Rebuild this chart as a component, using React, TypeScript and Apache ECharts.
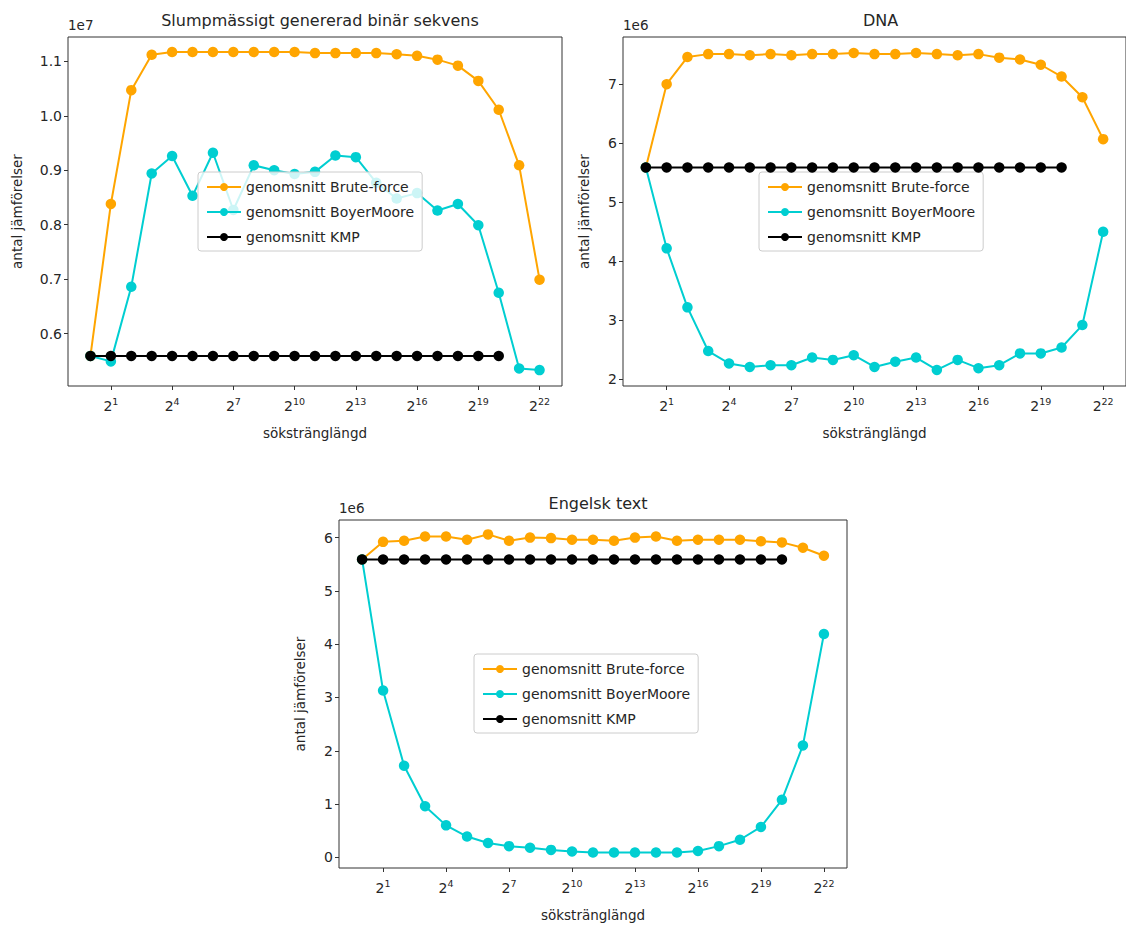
import React, { useEffect, useRef } from "react";
import * as echarts from "echarts";

// exponents n for search-string length 2^n
const exponents = [0, 1, 2, 3, 4, 5, 6, 7, 8, 9, 10, 11, 12, 13, 14, 15, 16, 17, 18, 19, 20, 21, 22];
const kmpExponents = [0, 1, 2, 3, 4, 5, 6, 7, 8, 9, 10, 11, 12, 13, 14, 15, 16, 17, 18, 19, 20];
const xTickExponents = [1, 4, 7, 10, 13, 16, 19, 22];

// values in millions of comparisons
const binBrute = [5.59, 8.38, 10.47, 11.12, 11.17, 11.17, 11.17, 11.17, 11.17, 11.17, 11.17, 11.15, 11.15, 11.15, 11.15, 11.13, 11.10, 11.03, 10.92, 10.64, 10.11, 9.09, 6.99];
const binBM = [5.59, 5.49, 6.86, 8.94, 9.26, 8.53, 9.32, 8.27, 9.09, 9.00, 8.93, 8.97, 9.27, 9.24, 8.77, 8.48, 8.58, 8.26, 8.38, 7.99, 6.75, 5.36, 5.33];
const binKMP = [5.59, 5.59, 5.59, 5.59, 5.59, 5.59, 5.59, 5.59, 5.59, 5.59, 5.59, 5.59, 5.59, 5.59, 5.59, 5.59, 5.59, 5.59, 5.59, 5.59, 5.59];

const dnaBrute = [5.59, 7.00, 7.46, 7.51, 7.51, 7.49, 7.51, 7.49, 7.51, 7.51, 7.53, 7.51, 7.51, 7.53, 7.51, 7.49, 7.51, 7.45, 7.42, 7.33, 7.13, 6.78, 6.07];
const dnaBM = [5.59, 4.22, 3.22, 2.48, 2.27, 2.21, 2.24, 2.24, 2.37, 2.33, 2.41, 2.21, 2.30, 2.37, 2.16, 2.33, 2.19, 2.24, 2.44, 2.44, 2.54, 2.92, 4.50];
const dnaKMP = [5.59, 5.59, 5.59, 5.59, 5.59, 5.59, 5.59, 5.59, 5.59, 5.59, 5.59, 5.59, 5.59, 5.59, 5.59, 5.59, 5.59, 5.59, 5.59, 5.59, 5.59];

const engBrute = [5.59, 5.92, 5.94, 6.02, 6.02, 5.96, 6.06, 5.94, 6.00, 5.99, 5.96, 5.96, 5.94, 6.00, 6.02, 5.94, 5.96, 5.96, 5.96, 5.93, 5.91, 5.81, 5.66];
const engBM = [5.59, 3.13, 1.72, 0.96, 0.60, 0.39, 0.27, 0.21, 0.18, 0.14, 0.11, 0.09, 0.09, 0.09, 0.09, 0.09, 0.12, 0.21, 0.33, 0.57, 1.08, 2.10, 4.19];
const engKMP = [5.59, 5.59, 5.59, 5.59, 5.59, 5.59, 5.59, 5.59, 5.59, 5.59, 5.59, 5.59, 5.59, 5.59, 5.59, 5.59, 5.59, 5.59, 5.59, 5.59, 5.59];

const titles = ["Slumpmässigt genererad binär sekvens", "DNA", "Engelsk text"];
const seriesNames = ["genomsnitt Brute-force", "genomsnitt BoyerMoore", "genomsnitt KMP"];
const colors = ["#FFA500", "#00CED1", "#000000"];
const yTicks1 = [6, 7, 8, 9, 10, 11];
const yTicks2 = [2, 3, 4, 5, 6, 7];
const yTicks3 = [0, 1, 2, 3, 4, 5, 6];
const offsetTexts = ["1e7", "1e6", "1e6"];
const xName = "sökstränglängd";
const yName = "antal jämförelser";

const FONT = "DejaVu Sans";
const TXT = "#262626";

export default function App() {
  const ref = useRef<HTMLDivElement>(null);
  useEffect(() => {
    document.body.style.margin = "0";
    const chart = echarts.init(ref.current!, null, { renderer: "svg" });

    const grids = [
      { left: 68, top: 37, width: 494, height: 349 },
      { left: 623, top: 37, width: 505, height: 349 },
      { left: 339, top: 520, width: 508, height: 348 },
    ];
    const yRanges = [
      [5.038, 11.446],
      [1.888, 7.80],
      [-0.2, 6.33],
    ];
    const yTickSets = [yTicks1, yTicks2, yTicks3];
    const yFormat = [
      (v: number) => (v / 10).toFixed(1),
      (v: number) => String(v),
      (v: number) => String(v),
    ];
    const legendPos = [
      { left: 198, top: 172 },
      { left: 759, top: 172 },
      { left: 474, top: 654 },
    ];
    const datasets = [
      [binBrute, binBM, binKMP],
      [dnaBrute, dnaBM, dnaKMP],
      [engBrute, engBM, engKMP],
    ];

    const xAxis = grids.map((g, i) => ({
      type: "value",
      gridIndex: i,
      min: -1.1,
      max: 23.1,
      axisLine: { show: false, onZero: false },
      splitLine: { show: false },
      axisTick: { show: true, length: 4, customValues: xTickExponents, lineStyle: { color: "#333" } },
      axisLabel: {
        customValues: xTickExponents,
        margin: 10,
        formatter: (v: number) => `{b|2}{s|${v}}`,
        rich: {
          b: { fontSize: 14, fontFamily: FONT, color: TXT, lineHeight: 19 },
          s: { fontSize: 9.5, fontFamily: FONT, color: TXT, lineHeight: 9, verticalAlign: "top" },
        },
      },
      name: xName,
      nameLocation: "middle",
      nameGap: 40,
      nameTextStyle: { fontSize: 13.5, fontFamily: FONT, color: TXT },
    }));

    const yAxis = grids.map((g, i) => ({
      type: "value",
      gridIndex: i,
      min: yRanges[i][0],
      max: yRanges[i][1],
      axisLine: { show: false, onZero: false },
      splitLine: { show: false },
      axisTick: { show: true, length: 4, customValues: yTickSets[i], lineStyle: { color: "#333" } },
      axisLabel: {
        customValues: yTickSets[i],
        formatter: yFormat[i],
        fontSize: 14,
        fontFamily: FONT,
        color: TXT,
        margin: 6,
      },
      name: yName,
      nameLocation: "middle",
      nameGap: i === 0 ? 44 : 32,
      nameTextStyle: { fontSize: 13.5, fontFamily: FONT, color: TXT },
    }));

    const series: any[] = [];
    datasets.forEach((ds, gi) => {
      ds.forEach((vals, si) => {
        const xs = si === 2 ? kmpExponents : exponents;
        series.push({
          type: "line",
          name: seriesNames[si],
          xAxisIndex: gi,
          yAxisIndex: gi,
          data: vals.map((v, k) => [xs[k], v]),
          symbol: "circle",
          symbolSize: 10.5,
          lineStyle: { color: colors[si], width: 2 },
          itemStyle: { color: colors[si] },
          z: 2 + si,
        });
      });
    });

    const legends = legendPos.map((p) => ({
      data: seriesNames,
      orient: "vertical",
      left: p.left,
      top: p.top,
      itemWidth: 34,
      itemHeight: 10,
      itemGap: 9,
      padding: [7, 8, 6, 8],
      backgroundColor: "rgba(255,255,255,0.8)",
      borderColor: "#cccccc",
      borderWidth: 1,
      borderRadius: 3,
      selectedMode: false,
      textStyle: { fontSize: 14, fontFamily: FONT, color: TXT, lineHeight: 16 },
    }));

    const title = grids.map((g, i) => ({
      text: titles[i],
      left: g.left + g.width / 2,
      top: g.top - 30,
      textAlign: "center",
      textStyle: { fontSize: 16, fontWeight: "normal", fontFamily: FONT, color: TXT },
    }));

    const graphic = grids.map((g, i) => ({
      type: "text",
      left: g.left,
      top: g.top - 19,
      style: { text: offsetTexts[i], fontSize: 13.5, fontFamily: FONT, fill: TXT },
    }));

    chart.setOption({
      animation: false,
      backgroundColor: "#ffffff",
      title,
      grid: grids.map((g) => ({ ...g, show: true, borderColor: "#333", borderWidth: 1, backgroundColor: "transparent" })),
      xAxis,
      yAxis,
      legend: legends,
      series,
      graphic,
    });
    return () => chart.dispose();
  }, []);
  return <div ref={ref} style={{ width: 1126, height: 925 }} />;
}
